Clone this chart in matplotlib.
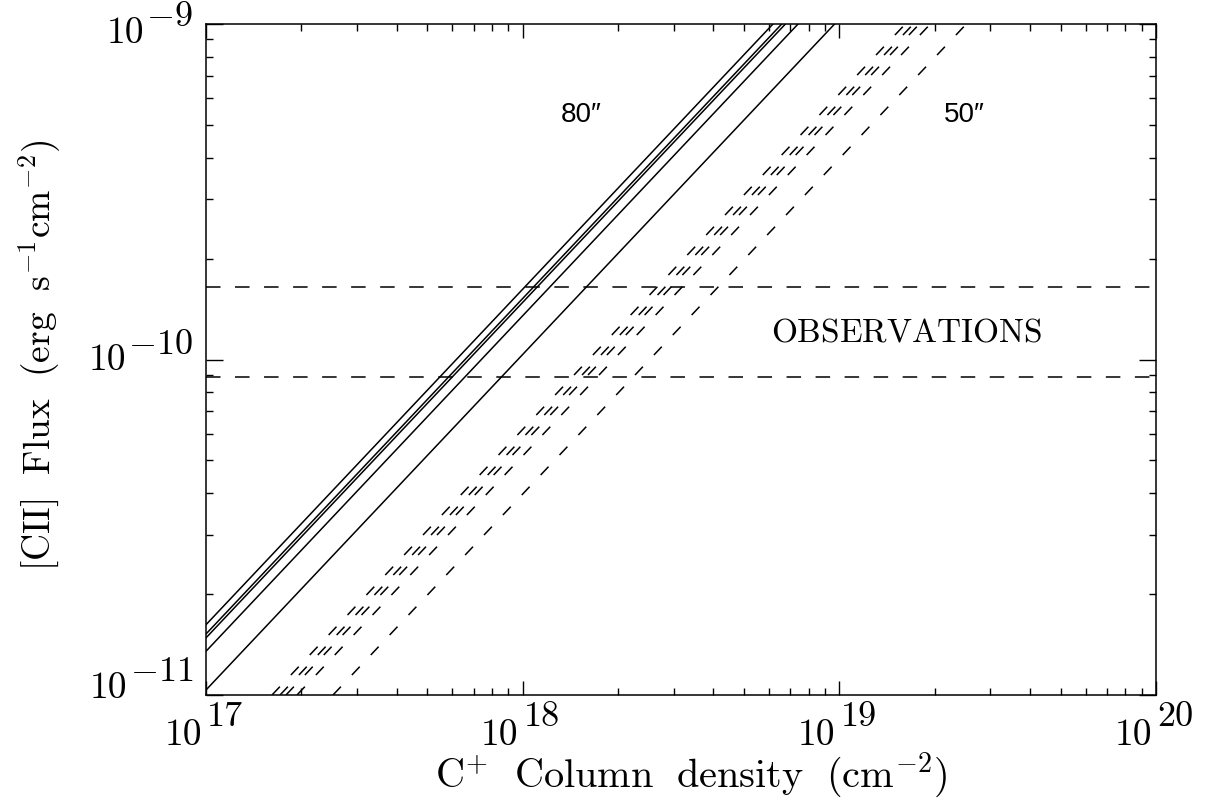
import matplotlib
matplotlib.use("Agg")
import matplotlib.pyplot as plt
from matplotlib.transforms import blended_transform_factory

plt.rcParams['mathtext.fontset'] = 'cm'
plt.rcParams['font.family'] = 'DejaVu Serif'

# ---- data ----
# Solid lines (80" beam): flux at the two ends of the column-density range
solid_N = [1e17, 1e20]
solid_flux_1 = [1.62e-11, 1.62e-8]
solid_flux_2 = [1.52e-11, 1.52e-8]
solid_flux_3 = [1.48e-11, 1.48e-8]
solid_flux_4 = [1.35e-11, 1.35e-8]
solid_flux_5 = [1.035e-11, 1.035e-8]

# Dashed lines (50" beam): column density where each line reaches these fluxes
dashed_flux = [1e-11, 1e-9]
dashed_N_1 = [1.616e17, 1.616e19]
dashed_N_2 = [1.713e17, 1.713e19]
dashed_N_3 = [1.789e17, 1.789e19]
dashed_N_4 = [1.938e17, 1.938e19]
dashed_N_5 = [2.518e17, 2.518e19]

# Observed flux range
obs_flux_high = 1.65e-10
obs_flux_low = 8.85e-11

x_ticks = [1e17, 1e18, 1e19, 1e20]
x_tick_exp = ["17", "18", "19", "20"]
y_ticks = [1e-9, 1e-10, 1e-11]
y_tick_exp = [r"$-9$", r"$-10$", r"$-11$"]

xlim = (1e17, 1e20)
ylim = (1e-11, 1e-9)

# ---- figure ----
W, H = 1205, 802
PT = 0.72  # points per pixel at dpi 100
fig = plt.figure(figsize=(W / 100, H / 100), dpi=100)
ax = fig.add_axes([206 / W, (H - 695) / H, 950 / W, 671 / H])
ax.set_xscale('log')
ax.set_yscale('log')
ax.set_xlim(*xlim)
ax.set_ylim(*ylim)

lw = 1.1
for fl in [solid_flux_1, solid_flux_2, solid_flux_3, solid_flux_4, solid_flux_5]:
    ax.plot(solid_N, fl, color='black', lw=lw, solid_capstyle='butt')

dash = (0, (7.5, 10.5))
for nn in [dashed_N_1, dashed_N_2, dashed_N_3, dashed_N_4, dashed_N_5]:
    ax.plot(nn, dashed_flux, color='black', lw=lw, linestyle=dash,
            dash_capstyle='butt')

hdash = (0, (9.5, 9.5))
for f in [obs_flux_high, obs_flux_low]:
    ax.plot(list(xlim), [f, f], color='black', lw=lw, linestyle=hdash,
            dash_capstyle='butt')

for s in ax.spines.values():
    s.set_linewidth(1.1)

ax.tick_params(which='both', direction='in', top=True, right=True,
               labelbottom=False, labelleft=False, width=1.0)
ax.tick_params(axis='x', which='major', length=10)
ax.tick_params(axis='y', which='major', length=12)
ax.tick_params(which='minor', length=5)
ax.set_xticks(x_ticks)
ax.set_yticks(y_ticks)

# tick labels in IDL style (exponent nearly as large as the base)
tx = blended_transform_factory(ax.transData, ax.transAxes)
for xv, e in zip(x_ticks, x_tick_exp):
    ax.annotate("10", xy=(xv, 0), xycoords=tx, xytext=(-4 * PT, -40 * PT),
                textcoords='offset points', ha='right', va='center',
                fontsize=27, family='cmr10')
    ax.annotate(e, xy=(xv, 0), xycoords=tx, xytext=(1 * PT, -22 * PT),
                textcoords='offset points', ha='left', va='center',
                fontsize=26, family='cmr10')

# vertical shift of the "10" base from each tick (pixels, + = down)
y_base_shift = [9, 1, -7]
ty = blended_transform_factory(ax.transAxes, ax.transData)
for yv, e, sh in zip(y_ticks, y_tick_exp, y_base_shift):
    et = ax.annotate(e, xy=(0, yv), xycoords=ty,
                     xytext=(-13 * PT, -(sh - 17) * PT),
                     textcoords='offset points', ha='right', va='center',
                     fontsize=26)
    ax.annotate("10", xy=(0, 0.5), xycoords=et, xytext=(-2 * PT, -17 * PT),
                textcoords='offset points', ha='right', va='center',
                fontsize=27, family='cmr10')

fig.text(691 / W, 1 - 776 / H,
         r'$\mathrm{C^{+}\ \ Column\ \ density\ \ (cm^{-2})}$',
         ha='center', va='center', fontsize=29)
fig.text(40 / W, 1 - 355 / H,
         r'$\mathrm{[CII]\ \ Flux\ \ (erg\ \ s^{-1}cm^{-2})}$',
         ha='center', va='center', fontsize=27, rotation=90)

ax.text(581 / W, 1 - 115 / H, '80\u2033', transform=fig.transFigure,
        ha='center', va='center', fontsize=20,
        family=['Liberation Sans', 'DejaVu Sans'])
ax.text(964 / W, 1 - 115 / H, '50\u2033', transform=fig.transFigure,
        ha='center', va='center', fontsize=20,
        family=['Liberation Sans', 'DejaVu Sans'])
ax.text(906 / W, 1 - 333 / H, r'$\mathrm{OBSERVATIONS}$',
        transform=fig.transFigure, ha='center', va='center', fontsize=24)

fig.savefig('out.png', dpi=100)
